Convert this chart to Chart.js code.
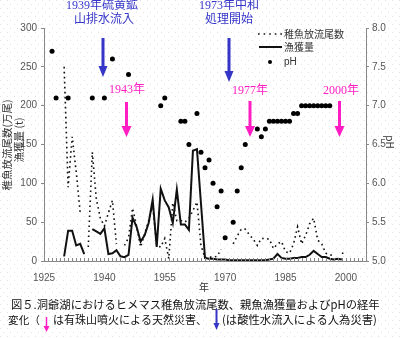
<!DOCTYPE html>
<html>
<head>
<meta charset="utf-8">
<script src="https://cdn.jsdelivr.net/npm/chart.js@4"></script>
<style>
  html, body { margin: 0; padding: 0; background: #fff; }
  #wrap { width: 400px; height: 338px; }
</style>
</head>
<body>
<div id="wrap"><canvas id="lakeChart" width="400" height="338"></canvas></div>
<script>
// years on the x axis (1927-2000)
var years = [
  1927, 1928, 1929, 1930, 1931, 1932, 1933, 1934, 1935, 1936,
  1937, 1938, 1939, 1940, 1941, 1942, 1943, 1944, 1945, 1946,
  1947, 1948, 1949, 1950, 1951, 1952, 1953, 1954, 1955, 1956,
  1957, 1958, 1959, 1960, 1961, 1962, 1963, 1964, 1965, 1966,
  1967, 1968, 1969, 1970, 1971, 1972, 1973, 1974, 1975, 1976,
  1977, 1978, 1979, 1980, 1981, 1982, 1983, 1984, 1985, 1986,
  1987, 1988, 1989, 1990, 1991, 1992, 1993, 1994, 1995, 1996,
  1997, 1998, 1999, 2000
];

// 稚魚放流尾数 (万尾)
var fryReleased = [
  null, null, null, 250, 95, 160, 115, 62, null, 18,
  140, 80, 55, 45, 62, 78, 22, null, 20, 30,
  68, 45, 18, 35, 52, 72, 20, 18, 29, 3,
  75, 52, 52, 50, 55, 65, 76, 20, 4, 5,
  5, 6, 15, null, null, 22, 32, 41, 41, 34,
  28, 20, 29, 29, 28, 16, 22, 25, 12, 10,
  22, 44, 22, 33, 48, 55, 27, 22, 10, 8,
  7, null, 10, 10
];

// 漁獲量 (t)
var catchTons = [
  null, null, null, 6, 39, 39, 20, 22, 9, null,
  41, 38, 35, 42, 9, 10, 14, 6, 5, 8,
  56, 44, 25, 33, 49, 79, 18, 93, 78, 69,
  49, 92, 47, 47, 40, 142, 144, 74, 4, 3,
  3, 2, 2, 2, 1, 1, 1, 1, 1, 1,
  1, 1, 1, 1, 2, 3, 9, 4, 3, 3,
  4, 4, 5, 5, 8, 13, 9, 5, 5, 3,
  2, 3, 2, null
];

// pH
var phYears = [1927, 1928, 1931, 1937, 1940, 1942, 1946, 1954, 1955, 1959, 1960, 1961,
  1963, 1964, 1965, 1966, 1967, 1968, 1969, 1970, 1972, 1973, 1974, 1975,
  1978, 1979, 1980, 1981, 1982, 1983, 1984, 1985, 1986, 1987, 1988,
  1989, 1990, 1991, 1992, 1993, 1994, 1995, 1996];
var phValues = [7.7, 7.1, 7.1, 7.1, 7.1, 7.6, 7.4, 7.0, 7.1, 6.8, 6.8, 6.5,
  6.9, 6.4, 6.2, 6.3, 6.0, 5.7, 5.9, 5.3, 5.5, 5.9, 6.2, 6.5,
  6.7, 6.6, 6.7, 6.8, 6.8, 6.8, 6.8, 6.8, 6.8, 6.9, 6.9,
  7.0, 7.0, 7.0, 7.0, 7.0, 7.0, 7.0, 7.0];

var xLabels = [1925, 1940, 1955, 1970, 1985, 2000];
var leftTicks = [0, 50, 100, 150, 200, 250, 300];
var rightTicks = [5.0, 5.5, 6.0, 6.5, 7.0, 7.5, 8.0];

var BLUE = '#3535c8';
var PINK = '#ff1ec4';
var JP = "'Noto Sans CJK JP', 'Noto Sans', sans-serif";
var SERIF_JP = "'Liberation Serif', 'Noto Sans CJK JP', serif";

function toPoints(xs, ys) {
  return xs.map(function (x, i) { return { x: x, y: ys[i] }; });
}

function arrow(c, x, y0, y1, color, shaft, headW, headH) {
  c.save();
  c.fillStyle = color;
  c.fillRect(x - shaft / 2, y0, shaft, y1 - y0 - headH + 1);
  c.beginPath();
  c.moveTo(x - headW / 2, y1 - headH);
  c.lineTo(x + headW / 2, y1 - headH);
  c.lineTo(x, y1);
  c.closePath();
  c.fill();
  c.restore();
}

function fitText(c, txt, x, y, width, base, family) {
  c.font = base + 'px ' + family;
  var w = c.measureText(txt).width;
  var size = base * width / w;
  c.font = size.toFixed(2) + 'px ' + family;
  c.fillText(txt, x, y);
}

// dotted paper background
var bgPlugin = {
  id: 'paper',
  beforeDraw: function (chart) {
    var c = chart.ctx;
    var tile = document.createElement('canvas');
    tile.width = 7; tile.height = 8;
    var t = tile.getContext('2d');
    t.fillStyle = '#fff';
    t.fillRect(0, 0, 7, 8);
    t.fillStyle = '#e3e3e3';
    t.fillRect(0, 0, 1, 1);
    t.fillRect(3, 4, 1, 1);
    c.save();
    c.fillStyle = c.createPattern(tile, 'repeat');
    c.fillRect(0, 0, chart.width, chart.height);
    c.restore();
  }
};

var decoPlugin = {
  id: 'deco',
  afterDraw: function (chart) {
    var c = chart.ctx;
    var xs = chart.scales.x;
    var area = chart.chartArea;
    c.save();

    // small inward year ticks on the x axis
    c.strokeStyle = '#888';
    c.lineWidth = 1;
    for (var yr = 1925; yr <= 2005; yr++) {
      var px = Math.round(xs.getPixelForValue(yr)) + 0.5;
      c.beginPath();
      c.moveTo(px, area.bottom);
      c.lineTo(px, area.bottom - 3);
      c.stroke();
    }

    // axis titles
    c.fillStyle = '#333';
    c.textAlign = 'center';
    c.textBaseline = 'middle';
    c.font = '10px ' + JP;
    c.fillText('年', 204, 287);

    c.save();
    c.translate(7, 145);
    c.rotate(-Math.PI / 2);
    c.font = '10.5px ' + JP;
    c.fillText('稚魚放流尾数(万尾)', 0, 0);
    c.restore();
    c.save();
    c.translate(19, 140);
    c.rotate(-Math.PI / 2);
    c.font = '10.5px ' + JP;
    c.fillText('漁獲量 (t)', 0, 0);
    c.restore();
    c.save();
    c.translate(390, 142);
    c.rotate(Math.PI / 2);
    c.font = '10px ' + JP;
    c.fillText('pH', 0, 0);
    c.restore();

    // legend
    c.strokeStyle = '#111';
    c.lineWidth = 1.6;
    c.setLineDash([1.6, 4]);
    c.beginPath(); c.moveTo(258, 34); c.lineTo(282, 34); c.stroke();
    c.setLineDash([]);
    c.lineWidth = 2;
    c.beginPath(); c.moveTo(259, 47); c.lineTo(282, 47); c.stroke();
    c.fillStyle = '#000';
    c.beginPath(); c.arc(270, 62, 2, 0, Math.PI * 2); c.fill();
    c.fillStyle = '#333';
    c.textAlign = 'left';
    c.font = '10px ' + JP;
    c.fillText('稚魚放流尾数', 284, 34);
    c.fillText('漁獲量', 284, 47);
    c.font = '10px ' + "'Liberation Sans', sans-serif";
    c.fillText('pH', 284, 62);

    // event annotations
    c.textAlign = 'center';
    c.fillStyle = BLUE;
    c.font = '12px ' + SERIF_JP;
    c.fillText('1939年硫黄鉱', 102, 6);
    c.fillText('山排水流入', 104, 20);
    c.fillText('1973年中和', 229, 6);
    c.fillText('処理開始', 229, 20);
    arrow(c, 103, 38, 77, BLUE, 3, 9, 11);
    arrow(c, 229, 38, 82, BLUE, 3, 9, 11);

    c.fillStyle = PINK;
    c.fillText('1943年', 127, 90);
    c.fillText('1977年', 250, 91);
    c.fillText('2000年', 341, 91);
    arrow(c, 126.5, 102, 137, PINK, 3, 10, 11);
    arrow(c, 250, 101, 137, PINK, 3, 10, 11);
    arrow(c, 339.5, 101, 137, PINK, 3, 10, 11);

    // caption
    c.fillStyle = '#111';
    c.textAlign = 'left';
    c.textBaseline = 'middle';
    fitText(c, '図５.洞爺湖におけるヒメマス稚魚放流尾数、親魚漁獲量およびpHの経年', 11, 305, 369, 12.5, JP);
    fitText(c, '変化（', 8, 320, 32, 12.5, JP);
    fitText(c, 'は有珠山噴火による天然災害、', 53, 320, 154, 12.5, JP);
    fitText(c, '(は酸性水流入による人為災害)', 222, 320, 155, 12.5, JP);
    arrow(c, 46.5, 317, 332, PINK, 1.5, 6, 6);
    arrow(c, 216.5, 309, 330, BLUE, 2, 6, 7);

    c.restore();
  }
};

var tickFont = { family: "'Liberation Sans', sans-serif", size: 10 };

var ctx = document.getElementById('lakeChart');
var lakeChart = new Chart(ctx, {
  type: 'line',
  data: {
    datasets: [{
      label: '稚魚放流尾数',
      data: toPoints(years, fryReleased),
      yAxisID: 'y',
      borderColor: '#111',
      borderWidth: 1.6,
      borderDash: [1.6, 3.4],
      pointRadius: 0,
      spanGaps: false,
      tension: 0
    }, {
      label: '漁獲量',
      data: toPoints(years, catchTons),
      yAxisID: 'y',
      borderColor: '#111',
      borderWidth: 2,
      pointRadius: 0,
      spanGaps: false,
      tension: 0
    }, {
      label: 'pH',
      data: toPoints(phYears, phValues),
      yAxisID: 'y1',
      showLine: false,
      pointRadius: 2.5,
      pointBackgroundColor: '#000',
      pointBorderWidth: 0
    }]
  },
  options: {
    responsive: false,
    animation: false,
    devicePixelRatio: 1,
    layout: { padding: { top: 28, left: 0, right: 0, bottom: 0 } },
    plugins: {
      legend: { display: false },
      tooltip: { enabled: false }
    },
    scales: {
      x: {
        type: 'linear',
        min: 1925,
        max: 2005,
        afterBuildTicks: function (s) { s.ticks = xLabels.map(function (v) { return { value: v }; }); },
        afterFit: function (s) { s.height = 77; },
        grid: { display: false, drawTicks: false },
        border: { display: true, color: '#888' },
        ticks: {
          color: '#555', font: tickFont, padding: 11, maxRotation: 0, autoSkip: false,
          callback: function (v) { return String(v); }
        }
      },
      y: {
        position: 'left',
        min: 0,
        max: 300,
        afterBuildTicks: function (s) { s.ticks = leftTicks.map(function (v) { return { value: v }; }); },
        afterFit: function (s) { s.width = 44; },
        grid: { drawOnChartArea: false, tickLength: 3, color: '#888' },
        border: { color: '#888' },
        ticks: { color: '#555', font: tickFont, padding: 4 }
      },
      y1: {
        position: 'right',
        min: 5,
        max: 8,
        afterBuildTicks: function (s) { s.ticks = rightTicks.map(function (v) { return { value: v }; }); },
        afterFit: function (s) { s.width = 34; },
        grid: { drawOnChartArea: false, tickLength: 3, color: '#888' },
        border: { color: '#888' },
        ticks: { color: '#555', font: tickFont, padding: 3, callback: function (v) { return Number(v).toFixed(1); } }
      }
    }
  },
  plugins: [bgPlugin, decoPlugin]
});
</script>
</body>
</html>
